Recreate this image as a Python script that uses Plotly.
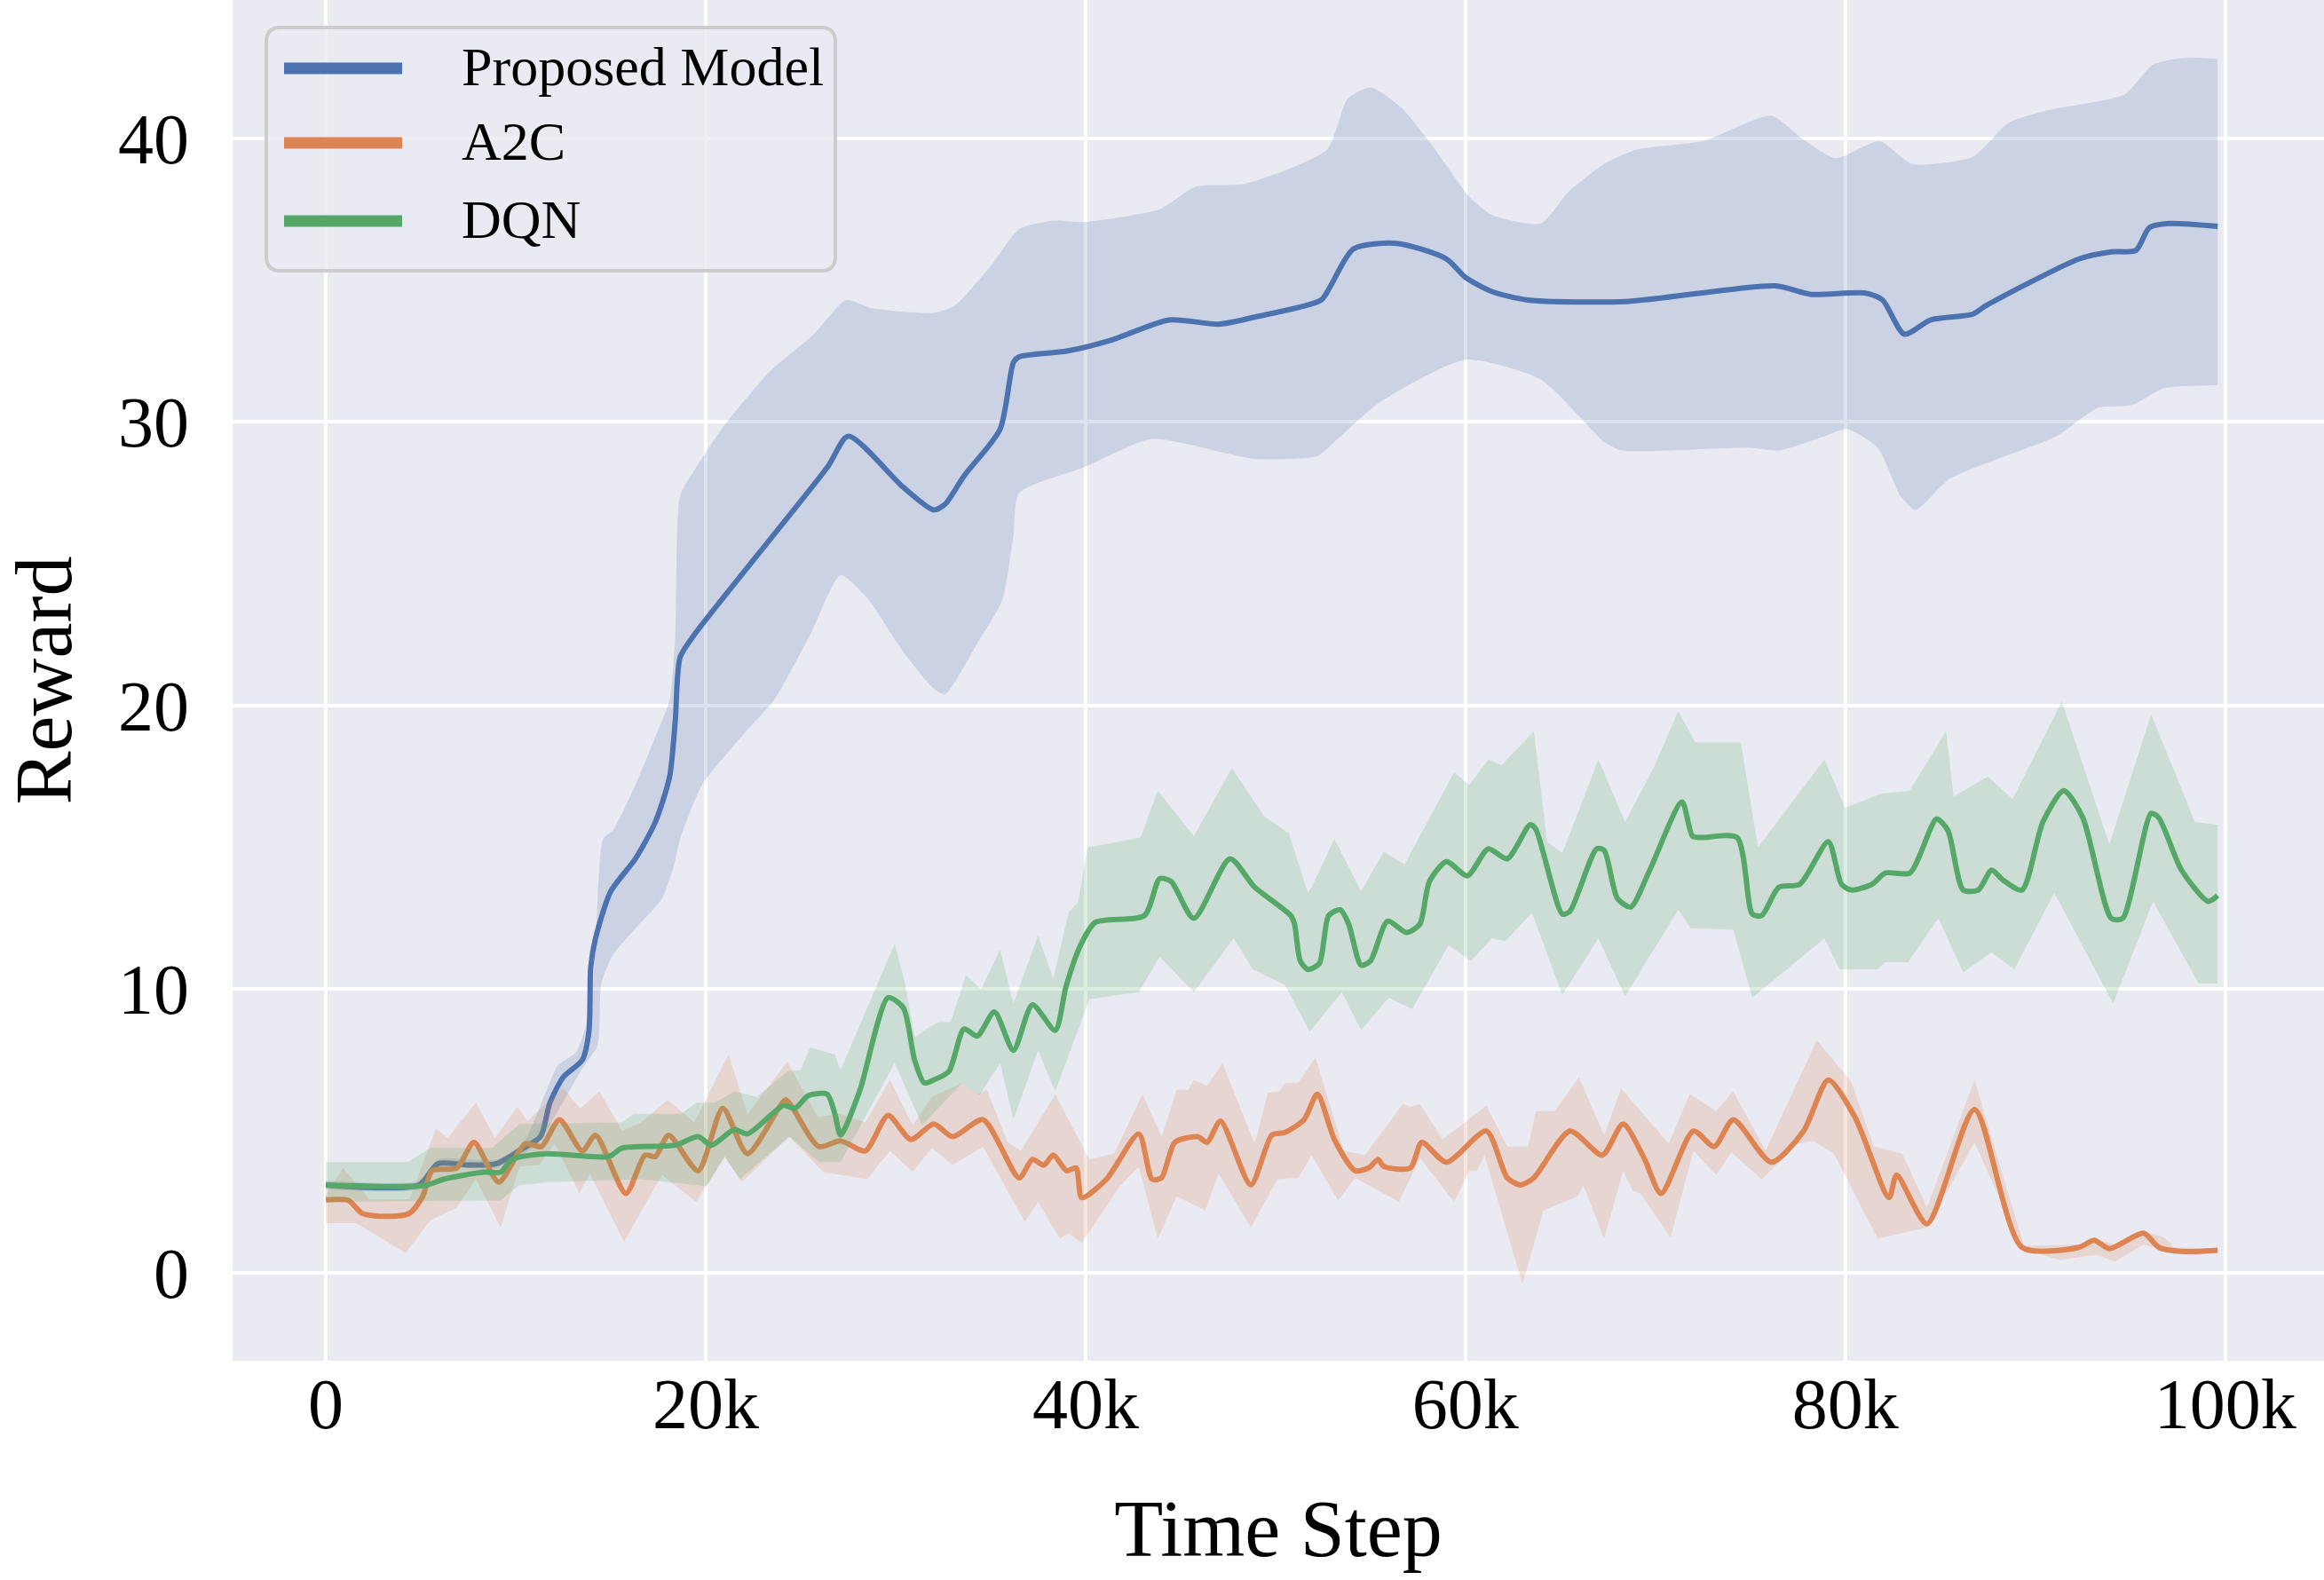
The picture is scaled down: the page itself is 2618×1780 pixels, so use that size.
import plotly.graph_objects as go

# ---------------- data (x in thousands of time steps) ----------------
prop_mean_x = [0, 4.9, 5.9, 7.5, 9.0, 10.4, 11.3, 11.8, 12.5, 13.5, 13.85, 13.95, 14.2, 15.0, 16.3, 17.35, 18.1, 18.4, 18.65, 19.4, 26.4, 27.5, 30.4, 32.0, 32.6, 33.6, 35.5, 36.2, 36.5, 39.0, 41.4, 44.4, 47.0, 48.9, 52.4, 52.9, 54.1, 56.4, 59.0, 60.0, 61.4, 63.3, 68.5, 76.3, 78.2, 81.0, 81.96, 83.1, 84.5, 86.7, 87.4, 92.3, 94.0, 95.3, 96.0, 97.0, 99.6]
prop_mean_y = [3.1, 3.1, 3.85, 3.8, 3.85, 4.4, 4.8, 6.0, 6.9, 7.5, 8.5, 10.8, 11.8, 13.45, 14.6, 15.9, 17.5, 19.5, 21.7, 22.5, 28.4, 29.5, 27.7, 26.9, 27.1, 28.1, 29.75, 32.1, 32.3, 32.5, 32.9, 33.6, 33.45, 33.7, 34.3, 34.8, 36.1, 36.3, 35.75, 35.1, 34.6, 34.3, 34.25, 34.8, 34.5, 34.55, 34.3, 33.1, 33.6, 33.8, 34.1, 35.75, 36.0, 36.05, 36.85, 37.0, 36.9]

prop_up_x = [0, 4.9, 5.9, 9.0, 10.4, 11.6, 12.2, 13.2, 13.95, 14.2, 14.6, 15.1, 16.3, 17.35, 18.1, 18.4, 18.65, 19.4, 21.0, 23.4, 25.7, 27.4, 28.8, 32.0, 33.1, 35.0, 36.5, 38.3, 39.9, 43.9, 45.8, 48.4, 52.7, 53.8, 55.0, 56.6, 58.3, 60.2, 61.4, 63.97, 65.4, 67.3, 69.0, 72.5, 76.1, 77.7, 79.5, 81.8, 83.5, 86.7, 88.6, 90.7, 94.7, 96.2, 98.0, 99.6]
prop_up_y = [3.25, 3.25, 4.0, 4.0, 4.6, 6.4, 7.3, 7.8, 9.4, 11.6, 15.3, 15.6, 17.2, 18.9, 20.2, 22.5, 27.4, 28.3, 29.9, 31.8, 33.1, 34.3, 34.0, 33.85, 34.1, 35.5, 36.8, 37.1, 37.05, 37.5, 38.3, 38.4, 39.6, 41.4, 41.8, 41.1, 39.7, 37.95, 37.3, 37.0, 38.1, 39.1, 39.6, 39.9, 40.8, 40.0, 39.3, 39.9, 39.1, 39.35, 40.55, 41.0, 41.55, 42.6, 42.85, 42.8]

prop_lo_x = [0, 4.9, 5.9, 9.0, 10.4, 11.1, 13.5, 14.3, 14.5, 15.1, 16.1, 17.7, 18.3, 18.65, 19.8, 22.0, 23.6, 25.5, 27.1, 28.5, 30.4, 32.0, 32.6, 34.3, 35.6, 36.2, 36.5, 39.9, 43.5, 48.9, 52.2, 53.1, 55.5, 60.0, 63.97, 67.3, 68.2, 74.9, 76.5, 78.9, 80.1, 81.7, 82.9, 83.7, 85.5, 91.1, 93.3, 95.1, 96.8, 99.6]
prop_lo_y = [2.95, 2.95, 3.7, 3.7, 4.2, 4.5, 7.2, 8.0, 10.2, 11.2, 12.0, 13.2, 14.3, 15.3, 17.2, 19.0, 20.2, 22.5, 24.6, 23.8, 21.9, 20.6, 20.4, 22.2, 23.7, 26.0, 27.5, 28.4, 29.4, 28.7, 28.8, 29.3, 30.7, 32.2, 31.5, 29.3, 29.0, 29.1, 29.0, 29.5, 29.75, 29.1, 27.4, 26.9, 28.0, 29.5, 30.5, 30.6, 31.2, 31.3]

a2c_mean_x = [0, 1.2, 1.9, 3.1, 4.4, 5.1, 5.6, 6.9, 7.8, 9.1, 10.5, 11.35, 12.3, 13.5, 14.2, 15.8, 16.8, 17.35, 18.05, 19.6, 20.9, 22.2, 24.2, 24.5, 25.95, 27.1, 28.4, 29.6, 30.8, 32.0, 33.0, 34.6, 36.5, 37.2, 37.8, 38.3, 39.0, 39.5, 39.8, 41.1, 42.8, 43.5, 44.0, 44.7, 45.9, 46.4, 47.1, 48.7, 49.8, 50.5, 51.5, 52.2, 53.1, 54.2, 54.9, 55.4, 55.7, 57.1, 57.7, 59.0, 61.1, 62.2, 62.9, 63.6, 65.5, 67.2, 68.3, 69.4, 70.3, 72.0, 73.1, 74.1, 76.1, 77.8, 79.1, 80.5, 82.3, 82.7, 84.3, 86.8, 89.3, 92.3, 93.1, 93.9, 95.7, 96.5, 97.9, 99.6]
a2c_mean_y = [2.57, 2.55, 2.1, 1.99, 2.1, 2.7, 3.6, 3.7, 4.6, 3.2, 4.55, 4.45, 5.4, 4.3, 4.85, 2.8, 4.15, 4.1, 4.85, 3.6, 5.8, 4.2, 6.1, 5.9, 4.45, 4.65, 4.3, 5.55, 4.7, 5.25, 4.8, 5.4, 3.35, 4.0, 3.8, 4.15, 3.6, 3.7, 2.65, 3.3, 4.9, 3.3, 3.35, 4.6, 4.8, 4.6, 5.35, 3.1, 4.85, 4.95, 5.4, 6.3, 4.7, 3.6, 3.7, 4.0, 3.75, 3.7, 4.6, 3.9, 5.0, 3.35, 3.1, 3.35, 5.0, 4.15, 5.25, 4.05, 2.8, 5.0, 4.45, 5.4, 3.9, 5.0, 6.8, 5.5, 2.65, 3.45, 1.73, 5.76, 0.9, 0.9, 1.15, 0.85, 1.4, 0.9, 0.75, 0.8]

a2c_up_x = [0, 0.9, 2.3, 4.4, 5.8, 6.4, 7.9, 8.9, 10.1, 10.6, 12.5, 13.4, 14.4, 15.6, 16.6, 18.0, 19.4, 21.2, 22.2, 24.3, 25.9, 27.1, 28.4, 29.7, 30.9, 31.9, 33.5, 34.3, 34.8, 35.9, 36.6, 38.4, 40.2, 41.5, 43.0, 44.0, 44.8, 45.4, 45.7, 46.4, 47.2, 48.9, 49.6, 50.2, 50.5, 51.2, 52.1, 53.6, 54.7, 56.7, 57.1, 57.6, 58.8, 61.1, 62.2, 63.3, 63.7, 64.7, 65.97, 67.3, 68.2, 70.7, 71.8, 73.2, 74.1, 75.8, 78.5, 80.3, 81.5, 83.0, 84.3, 86.8, 89.4, 92.3, 93.1, 94.2, 95.7, 96.8, 97.3, 99.6]
a2c_up_y = [2.75, 3.7, 2.6, 2.6, 5.1, 4.75, 6.0, 4.75, 5.85, 5.35, 6.5, 5.8, 6.4, 5.0, 5.3, 6.1, 5.3, 7.7, 5.6, 7.45, 5.5, 5.6, 5.3, 6.8, 5.2, 6.2, 6.7, 6.3, 6.45, 4.6, 4.3, 6.3, 4.0, 4.2, 6.3, 4.8, 6.45, 6.45, 6.8, 6.6, 7.4, 4.55, 6.35, 6.4, 6.7, 6.7, 7.6, 4.3, 4.15, 5.95, 5.85, 5.95, 4.7, 5.9, 4.45, 4.45, 5.7, 5.7, 6.9, 4.85, 6.5, 4.55, 6.3, 5.7, 6.4, 4.3, 8.2, 6.75, 4.45, 4.2, 2.3, 6.8, 0.95, 1.0, 1.2, 1.0, 1.45, 1.25, 0.9, 0.85]

a2c_lo_x = [0, 1.6, 4.2, 5.5, 6.9, 7.9, 9.2, 10.2, 11.2, 12.05, 13.35, 13.9, 15.7, 17.7, 19.5, 21.0, 21.9, 24.4, 26.2, 28.5, 29.7, 30.9, 31.9, 33.0, 34.6, 36.8, 37.5, 38.65, 39.1, 39.8, 41.8, 42.8, 43.8, 44.8, 46.3, 47.0, 48.7, 50.1, 51.2, 51.9, 53.3, 54.2, 56.5, 57.6, 59.4, 60.2, 60.6, 61.0, 63.0, 64.1, 65.9, 66.2, 67.3, 68.3, 68.8, 69.2, 70.8, 72.0, 73.2, 74.0, 75.6, 77.5, 78.3, 79.4, 81.7, 84.3, 86.8, 89.3, 91.3, 93.2, 94.2, 95.7, 96.5, 97.3, 99.6]
a2c_lo_y = [1.75, 1.75, 0.7, 1.85, 2.3, 3.3, 1.6, 3.75, 3.8, 4.55, 2.8, 3.5, 1.1, 3.45, 2.5, 4.1, 3.2, 4.8, 3.55, 3.3, 4.3, 3.55, 4.4, 3.8, 4.45, 1.8, 2.5, 1.2, 1.4, 1.05, 3.05, 3.75, 1.2, 2.7, 2.2, 3.5, 1.6, 3.3, 3.35, 4.15, 2.55, 3.35, 2.5, 4.05, 2.5, 3.6, 3.6, 4.15, -0.4, 2.2, 2.7, 3.1, 1.2, 3.6, 2.9, 2.8, 1.25, 4.3, 3.45, 4.25, 3.3, 4.55, 4.65, 4.2, 1.2, 1.6, 4.6, 0.85, 0.45, 0.63, 0.4, 1.0, 0.85, 0.75, 0.75]

dqn_mean_x = [0, 5.2, 6.2, 8.3, 9.2, 9.8, 11.6, 14.9, 15.6, 18.4, 19.6, 20.3, 21.5, 22.2, 24.1, 24.7, 25.4, 26.4, 26.8, 27.1, 28.1, 29.6, 30.4, 31.0, 31.5, 32.0, 32.8, 33.6, 34.3, 35.2, 36.2, 37.2, 38.4, 38.97, 39.7, 40.5, 43.1, 43.9, 44.5, 45.7, 47.6, 48.9, 50.8, 51.0, 51.3, 51.7, 52.3, 52.8, 53.4, 53.85, 54.5, 55.0, 55.9, 56.9, 57.6, 58.1, 59.0, 60.1, 61.2, 62.2, 63.4, 63.7, 65.1, 65.5, 66.9, 67.3, 68.0, 68.7, 69.7, 71.4, 71.95, 72.4, 74.3, 75.1, 75.6, 76.5, 77.6, 79.1, 79.8, 80.3, 81.4, 82.1, 83.4, 84.8, 85.4, 86.2, 87.0, 87.7, 88.3, 89.3, 90.4, 91.5, 92.5, 94.0, 94.6, 96.1, 96.5, 97.7, 99.1, 99.6]
dqn_mean_y = [3.1, 3.08, 3.3, 3.55, 3.55, 4.0, 4.2, 4.1, 4.4, 4.5, 4.8, 4.5, 5.05, 4.9, 5.9, 5.8, 6.25, 6.3, 5.6, 4.86, 6.4, 9.7, 9.35, 7.5, 6.7, 6.8, 7.1, 8.6, 8.35, 9.2, 7.85, 9.45, 8.55, 10.1, 11.5, 12.35, 12.6, 13.9, 13.8, 12.5, 14.6, 13.6, 12.6, 12.3, 11.0, 10.7, 10.9, 12.6, 12.8, 12.3, 10.85, 11.0, 12.4, 12.0, 12.3, 13.8, 14.5, 14.0, 14.95, 14.6, 15.8, 15.65, 12.65, 12.75, 14.95, 14.9, 13.2, 12.9, 14.2, 16.6, 15.4, 15.35, 15.35, 12.65, 12.6, 13.6, 13.7, 15.2, 13.7, 13.5, 13.7, 14.1, 14.1, 16.0, 15.6, 13.5, 13.5, 14.2, 13.85, 13.5, 15.9, 17.0, 16.05, 12.5, 12.5, 16.2, 16.05, 14.2, 13.1, 13.3]

dqn_up_x = [0, 4.3, 5.5, 8.75, 10.2, 15.6, 16.2, 18.7, 19.5, 20.5, 21.5, 22.7, 24.3, 25.0, 25.5, 26.8, 27.1, 29.95, 30.5, 31.0, 31.6, 32.3, 32.9, 33.7, 34.5, 35.5, 36.2, 37.5, 38.3, 39.1, 39.6, 40.1, 42.9, 43.8, 45.7, 47.7, 49.4, 50.7, 51.7, 51.9, 53.1, 54.5, 55.7, 56.8, 59.4, 60.2, 61.2, 61.9, 63.6, 64.3, 65.1, 67.0, 68.4, 69.9, 71.2, 72.1, 74.5, 75.4, 78.9, 80.0, 81.9, 83.4, 85.3, 85.7, 87.5, 88.8, 91.4, 93.9, 96.1, 98.4, 99.6]
dqn_up_y = [3.9, 3.9, 4.4, 4.4, 5.25, 5.3, 5.6, 5.6, 6.0, 6.0, 6.4, 6.2, 7.1, 7.15, 7.95, 7.7, 7.15, 11.6, 10.2, 8.3, 8.6, 8.85, 8.85, 10.5, 10.0, 11.4, 9.5, 11.9, 10.35, 12.7, 13.05, 15.0, 15.35, 17.0, 15.4, 17.8, 16.1, 15.5, 13.4, 13.6, 15.3, 13.45, 14.85, 14.4, 17.65, 17.2, 18.1, 17.9, 19.1, 15.2, 14.8, 18.1, 15.9, 17.8, 19.8, 18.7, 18.7, 15.0, 18.1, 16.4, 16.9, 17.0, 19.1, 16.8, 17.5, 16.7, 20.15, 15.1, 19.7, 15.9, 15.8]

dqn_lo_x = [0, 9.2, 10.2, 11.8, 16.6, 20.05, 21.0, 21.8, 24.4, 25.95, 27.1, 29.95, 31.4, 32.4, 33.5, 34.4, 35.5, 36.2, 37.5, 38.4, 40.2, 42.8, 43.9, 45.7, 47.8, 48.8, 50.5, 51.8, 53.5, 54.5, 55.96, 57.2, 59.1, 60.3, 61.4, 62.1, 63.5, 65.1, 67.0, 68.4, 71.2, 71.85, 74.1, 75.1, 78.9, 79.7, 81.7, 82.1, 83.3, 84.9, 86.2, 87.7, 88.9, 91.0, 94.1, 96.2, 98.6, 99.6]
dqn_lo_y = [2.5, 2.55, 3.1, 3.2, 3.3, 3.05, 4.1, 3.3, 4.8, 3.9, 3.9, 7.4, 5.2, 5.9, 6.7, 6.25, 7.4, 5.4, 7.85, 6.4, 9.65, 9.9, 11.15, 9.9, 11.8, 10.7, 10.15, 8.5, 9.9, 8.55, 9.7, 9.3, 11.55, 11.0, 11.8, 11.7, 12.7, 9.8, 11.8, 9.75, 12.8, 12.15, 12.1, 9.7, 11.8, 10.7, 10.7, 10.95, 10.95, 12.5, 10.6, 11.3, 10.7, 13.4, 9.5, 13.1, 10.2, 10.2]

series_names = ["Proposed Model", "A2C", "DQN"]
series_colors = ["#4C72B0", "#DD8452", "#55A868"]
series_fills = ["rgba(76,114,176,0.2)", "rgba(221,132,82,0.2)", "rgba(85,168,104,0.2)"]

x_tick_vals = [0, 20000, 40000, 60000, 80000, 100000]
x_tick_text = ["0", "20k", "40k", "60k", "80k", "100k"]
y_tick_vals = [0, 10, 20, 30, 40]

FONT = "Liberation Serif, Times New Roman, serif"


def steps(xs):
    return [v * 1000 for v in xs]


series = [
    (prop_mean_x, prop_mean_y, prop_lo_x, prop_lo_y, prop_up_x, prop_up_y, "spline"),
    (a2c_mean_x, a2c_mean_y, a2c_lo_x, a2c_lo_y, a2c_up_x, a2c_up_y, "linear"),
    (dqn_mean_x, dqn_mean_y, dqn_lo_x, dqn_lo_y, dqn_up_x, dqn_up_y, "linear"),
]

fig = go.Figure()
for (mx, my, lx, ly, ux, uy, band_shape), name, col, fcol in zip(series, series_names, series_colors, series_fills):
    fig.add_trace(go.Scatter(x=steps(lx), y=ly, mode="lines",
                             line=dict(width=0, color=fcol, shape=band_shape, smoothing=0.6),
                             showlegend=False, hoverinfo="skip"))
    fig.add_trace(go.Scatter(x=steps(ux), y=uy, mode="lines", fill="tonexty", fillcolor=fcol,
                             line=dict(width=0, color=fcol, shape=band_shape, smoothing=0.6),
                             showlegend=False, hoverinfo="skip"))
    fig.add_trace(go.Scatter(x=steps(mx), y=my, mode="lines", name=name,
                             line=dict(width=6, color=col, shape="spline", smoothing=0.7),
                             showlegend=False))

# ---------------- layout ----------------
W, H = 2618, 1780
ML, MR, MT, MB = 262, 0, 0, 247
PW, PH = W - ML - MR, H - MT - MB


def px(xp):
    return (xp - ML) / PW


def py(yp):
    return 1 - (yp - MT) / PH


fig.update_layout(
    width=W, height=H,
    margin=dict(l=ML, r=MR, t=MT, b=MB, pad=0),
    paper_bgcolor="white",
    plot_bgcolor="#EAEAF2",
    font=dict(family=FONT, color="black"),
    showlegend=False,
)
fig.update_xaxes(
    range=[-4910, 105200], tickvals=x_tick_vals, ticktext=x_tick_text,
    showgrid=True, gridcolor="white", gridwidth=4, zeroline=False, showline=False,
    ticks="", tickfont=dict(size=80, family=FONT), ticklabelstandoff=-5,
    title=dict(text="Time Step", font=dict(size=90, family=FONT), standoff=64),
    automargin=False,
)
fig.update_yaxes(
    range=[-3.10, 44.88], tickvals=y_tick_vals,
    showgrid=True, gridcolor="white", gridwidth=4, zeroline=False, showline=False,
    ticks="", tickfont=dict(size=80, family=FONT), ticklabelstandoff=48,
    title=dict(text="Reward", font=dict(size=90, family=FONT), standoff=38),
    automargin=False,
)

# ---------------- custom legend (matplotlib style) ----------------
bx0, bx1, by0, by1 = px(300), px(941), py(31), py(305)
rx, ry = 16 / PW, 16 / PH
path = (f"M {bx0+rx},{by0} L {bx1-rx},{by0} Q {bx1},{by0} {bx1},{by0-ry} "
        f"L {bx1},{by1+ry} Q {bx1},{by1} {bx1-rx},{by1} "
        f"L {bx0+rx},{by1} Q {bx0},{by1} {bx0},{by1+ry} "
        f"L {bx0},{by0-ry} Q {bx0},{by0} {bx0+rx},{by0} Z")
shapes = [dict(type="path", path=path, xref="paper", yref="paper",
               fillcolor="rgba(234,234,242,0.8)", line=dict(color="#CCCCCC", width=4), layer="above")]
annotations = []
legend_rows = [77, 161, 249]
for name, col, yy in zip(series_names, series_colors, legend_rows):
    shapes.append(dict(type="line", xref="paper", yref="paper", x0=px(320), x1=px(453), y0=py(yy), y1=py(yy),
                       line=dict(color=col, width=13), layer="above"))
    annotations.append(dict(text=name, xref="paper", yref="paper", x=px(518), y=py(yy - 2),
                            xanchor="left", yanchor="middle", showarrow=False,
                            font=dict(size=62, family=FONT, color="black")))
fig.update_layout(shapes=shapes, annotations=annotations)

fig.write_html("out.html", config={"displayModeBar": False},
               post_script="document.body.style.margin='0px';document.body.style.overflow='hidden';")
